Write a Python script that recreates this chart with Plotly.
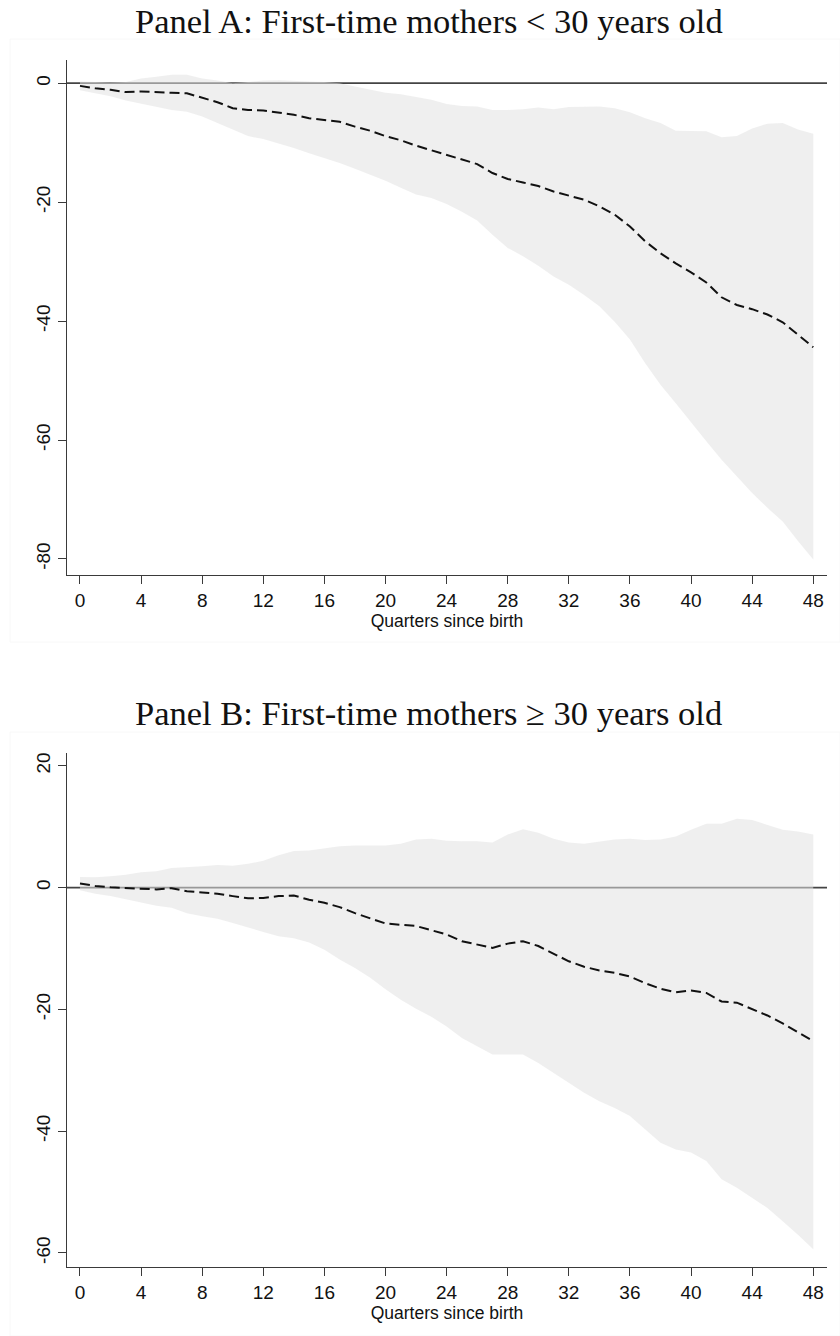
import plotly.graph_objects as go

W, H = 840, 1336

quarters = list(range(0, 49))

# Panel A: first-time mothers < 30
a_est = [-0.45, -0.85, -1.1, -1.5, -1.4, -1.55, -1.6, -1.7, -2.4, -3.2,
         -4.2, -4.5, -4.6, -4.9, -5.3, -5.9, -6.2, -6.5, -7.3, -8.0,
         -8.9, -9.6, -10.5, -11.3, -12.0, -12.8, -13.6, -15.1, -16.1, -16.7,
         -17.3, -18.2, -18.9, -19.6, -20.7, -22.1, -24.1, -26.6, -28.6, -30.3,
         -31.8, -33.5, -36.0, -37.3, -38.0, -38.9, -40.2, -42.3, -44.4]
a_hi = [0.3, 0.2, 0.1, 0.2, 0.8, 1.1, 1.4, 1.4, 0.8, 0.45,
        0.0, 0.2, 0.45, 0.5, 0.45, 0.3, 0.2, 0.0, -0.55, -1.1,
        -1.6, -1.85, -2.3, -2.8, -3.5, -3.85, -3.9, -4.5, -4.5, -4.4,
        -4.1, -4.4, -4.0, -3.9, -3.9, -4.2, -4.9, -5.9, -6.7, -8.0,
        -8.0, -8.1, -9.1, -8.9, -7.6, -6.8, -6.7, -7.8, -8.5]
a_lo = [-1.2, -1.7, -2.2, -2.9, -3.4, -3.9, -4.5, -4.8, -5.6, -6.7,
        -7.8, -8.9, -9.4, -10.1, -10.9, -11.8, -12.6, -13.4, -14.4, -15.4,
        -16.4, -17.6, -18.7, -19.3, -20.3, -21.6, -23.1, -25.5, -27.7, -29.1,
        -30.7, -32.5, -33.9, -35.6, -37.5, -40.1, -43.1, -47.1, -50.7, -53.8,
        -57.1, -60.2, -63.3, -66.1, -68.9, -71.4, -73.7, -77.0, -80.1]

# Panel B: first-time mothers >= 30
b_est = [0.66, 0.27, 0.05, -0.1, -0.2, -0.3, -0.1, -0.6, -0.8, -1.0,
         -1.4, -1.75, -1.7, -1.4, -1.3, -2.0, -2.5, -3.2, -4.2, -5.1,
         -5.9, -6.1, -6.3, -7.0, -7.7, -8.8, -9.4, -9.9, -9.2, -8.8,
         -9.6, -10.8, -12.1, -13.0, -13.6, -14.0, -14.6, -15.7, -16.6, -17.2,
         -16.9, -17.3, -18.7, -18.9, -19.9, -21.0, -22.3, -23.8, -25.2]
b_hi = [1.75, 1.7, 1.85, 2.1, 2.5, 2.7, 3.2, 3.3, 3.5, 3.7,
        3.6, 3.9, 4.4, 5.3, 6.0, 6.1, 6.5, 6.8, 6.9, 6.9,
        6.9, 7.2, 7.9, 8.0, 7.7, 7.6, 7.6, 7.4, 8.7, 9.6,
        9.0, 8.0, 7.4, 7.2, 7.6, 7.9, 8.0, 7.8, 7.9, 8.4,
        9.5, 10.5, 10.5, 11.3, 11.1, 10.3, 9.5, 9.2, 8.7]
b_lo = [-0.45, -1.0, -1.4, -1.9, -2.5, -3.0, -3.3, -4.2, -4.7, -5.1,
        -5.8, -6.6, -7.3, -8.0, -8.3, -9.0, -10.2, -11.8, -13.2, -14.8,
        -16.7, -18.4, -19.9, -21.2, -22.8, -24.7, -26.1, -27.4, -27.4, -27.4,
        -28.8, -30.4, -32.1, -33.7, -35.1, -36.2, -37.5, -39.7, -41.9, -43.0,
        -43.5, -44.9, -47.9, -49.3, -51.0, -52.6, -54.8, -57.0, -59.4]

x_ticks = list(range(0, 49, 4))
a_yticks = [0, -20, -40, -60, -80]
b_yticks = [20, 0, -20, -40, -60]

titles = ["Panel A: First-time mothers &lt; 30 years old",
          "Panel B: First-time mothers \u2265 30 years old"]
x_title = "Quarters since birth"

# pixel geometry of the two panels (top, bottom) and x extent
XL, XR = 67, 827
panels = [
    dict(top=60, bottom=575, yr=[-82.7, 3.9], ticks=a_yticks, est=a_est, hi=a_hi, lo=a_lo,
         title_y=21, frame=(10, 39, 840, 642)),
    dict(top=753, bottom=1267, yr=[-62.3, 22.1], ticks=b_yticks, est=b_est, hi=b_hi, lo=b_lo,
         title_y=713, frame=(10, 732, 840, 1336)),
]

fig = go.Figure()
band_fill = "rgba(225,225,225,0.54)"
axis_col = "#3a3a3a"
sans = "Liberation Sans, Arial"

shapes = []
annotations = []
for i, p in enumerate(panels):
    xa = "x" if i == 0 else "x2"
    ya = "y" if i == 0 else "y2"
    fig.add_trace(go.Scatter(x=quarters, y=p["hi"], mode="lines", line=dict(width=0, color=band_fill),
                             xaxis=xa, yaxis=ya, showlegend=False, hoverinfo="skip"))
    fig.add_trace(go.Scatter(x=quarters, y=p["lo"], mode="lines", line=dict(width=0, color=band_fill),
                             fill="tonexty", fillcolor=band_fill,
                             xaxis=xa, yaxis=ya, showlegend=False, hoverinfo="skip"))
    fig.add_trace(go.Scatter(x=quarters, y=p["est"], mode="lines",
                             line=dict(color="#111111", width=2, dash="10px,5px"),
                             xaxis=xa, yaxis=ya, showlegend=False))
    dom_y = [1 - p["bottom"] / H, 1 - p["top"] / H]
    axkw = dict(showline=True, linecolor=axis_col, linewidth=1.4, ticks="outside", ticklen=8,
                tickwidth=1.4, tickcolor=axis_col, showgrid=False, zeroline=False, mirror=False,
                tickfont=dict(family=sans, size=19, color="#111"))
    xkey = "xaxis" if i == 0 else "xaxis2"
    ykey = "yaxis" if i == 0 else "yaxis2"
    fig.update_layout(**{
        xkey: dict(domain=[XL / W, XR / W], range=[-0.85, 48.9], tickvals=x_ticks,
                   ticktext=[str(v) for v in x_ticks],
                   anchor=ya, title=dict(text=x_title, standoff=0,
                                         font=dict(family=sans, size=17.5, color="#111")),
                   **axkw),
        ykey: dict(domain=dom_y, range=p["yr"], tickvals=p["ticks"],
                   ticktext=[str(v) for v in p["ticks"]], tickangle=-90,
                   anchor=xa, **axkw),
    })
    # zero reference line
    shapes.append(dict(type="line", xref=f"{xa} domain", yref=ya, x0=0, x1=1, y0=0, y1=0,
                       line=dict(color="#444444", width=1.7), layer="below"))
    # faint graph-region frame
    fx0, fy0, fx1, fy1 = p["frame"]
    shapes.append(dict(type="rect", xref="paper", yref="paper", x0=fx0 / W, x1=fx1 / W,
                       y0=1 - fy1 / H, y1=1 - fy0 / H, line=dict(color="#f8f8f8", width=1),
                       layer="below"))
    annotations.append(dict(text=titles[i], xref="paper", yref="paper", x=429 / W,
                            y=1 - p["title_y"] / H, xanchor="center", yanchor="middle",
                            showarrow=False,
                            font=dict(family="Liberation Serif, Times New Roman", size=34.5, color="#111")))

fig.update_layout(width=W, height=H, margin=dict(l=0, r=0, t=0, b=0),
                  paper_bgcolor="white", plot_bgcolor="rgba(0,0,0,0)",
                  shapes=shapes, annotations=annotations, showlegend=False)

fig.write_html("out.html", config={"displayModeBar": False},
               post_script="document.body.style.margin='0';")
